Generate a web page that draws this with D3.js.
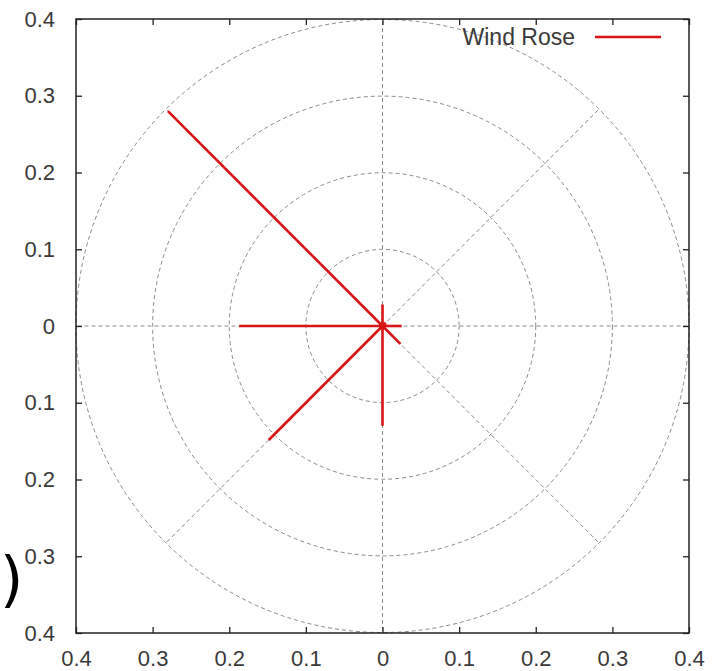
<!DOCTYPE html>
<html>
<head>
<meta charset="utf-8">
<script src="https://cdn.jsdelivr.net/npm/d3@7"></script>
<style>
  html, body { margin: 0; padding: 0; background: #fff; }
  svg { display: block; }
  text { font-family: "Liberation Sans", Arial, sans-serif; }
</style>
</head>
<body>
<svg id="chart" width="721" height="671"></svg>
<script>
// Wind rose: mean vector length per compass direction
const directions = ["N", "NE", "E", "SE", "S", "SW", "W", "NW"];
const bearings   = [0, 45, 90, 135, 180, 225, 270, 315];
const magnitudes = [0.028, 0.006, 0.025, 0.033, 0.13, 0.21, 0.187, 0.396];

// Grid and tick values
const ringRadii  = [0.1, 0.2, 0.3, 0.4];
const spokeAngles = [0, 45, 90, 135, 180, 225, 270, 315];
const tickValues = [-0.4, -0.3, -0.2, -0.1, 0, 0.1, 0.2, 0.3, 0.4];
const legendLabel = "Wind Rose";

const svg = d3.select("#chart");
const plotLeft = 76, plotRight = 689, plotTop = 19, plotBottom = 633;

const x = d3.scaleLinear().domain([-0.4, 0.4]).range([plotLeft, plotRight]);
const y = d3.scaleLinear().domain([-0.4, 0.4]).range([plotBottom, plotTop]);
const rpx = d3.scaleLinear().domain([0, 0.4]).range([0, (plotRight - plotLeft) / 2]);
const cx = x(0), cy = y(0);

const gridColor = "#8a8a8a";
const red = "#d81414";
const labelSize = "22px";

// Concentric range rings
svg.append("g").selectAll("circle").data(ringRadii).join("circle")
  .attr("cx", cx).attr("cy", cy)
  .attr("r", d => rpx(d))
  .attr("fill", "none")
  .attr("stroke", gridColor)
  .attr("stroke-width", 1)
  .attr("stroke-dasharray", "4,3");

// Radial spokes every 45 degrees
const rMax = d3.max(ringRadii);
svg.append("g").selectAll("line").data(spokeAngles).join("line")
  .attr("x1", cx).attr("y1", cy)
  .attr("x2", a => x(rMax * Math.sin(a * Math.PI / 180)))
  .attr("y2", a => y(rMax * Math.cos(a * Math.PI / 180)))
  .attr("stroke", gridColor)
  .attr("stroke-width", 1)
  .attr("stroke-dasharray", "4,3");

// Axes with inward ticks and absolute-value labels
const fmt = v => Math.abs(v) < 1e-9 ? "0" : d3.format(".1f")(Math.abs(v));
const styleAxis = g => {
  g.select(".domain").remove();
  g.selectAll(".tick line").attr("stroke", "#222").attr("stroke-width", 1.3);
  g.selectAll(".tick text").attr("fill", "#3a3a3a").style("font-size", labelSize)
    .style("font-family", "Liberation Sans, Arial, sans-serif");
};
svg.append("g").attr("transform", `translate(${plotLeft},0)`)
  .call(d3.axisLeft(y).tickValues(tickValues).tickFormat(fmt).tickSize(-6).tickPadding(21))
  .call(styleAxis);
svg.append("g").attr("transform", `translate(0,${plotBottom})`)
  .call(d3.axisBottom(x).tickValues(tickValues).tickFormat(fmt).tickSize(-6).tickPadding(17))
  .call(styleAxis);
svg.append("g").attr("transform", `translate(${plotRight},0)`)
  .call(d3.axisRight(y).tickValues(tickValues).tickFormat("").tickSize(-6))
  .call(styleAxis);
svg.append("g").attr("transform", `translate(0,${plotTop})`)
  .call(d3.axisTop(x).tickValues(tickValues).tickFormat("").tickSize(-6))
  .call(styleAxis);

// Plot border
svg.append("rect")
  .attr("x", plotLeft).attr("y", plotTop)
  .attr("width", plotRight - plotLeft).attr("height", plotBottom - plotTop)
  .attr("fill", "none").attr("stroke", "#222").attr("stroke-width", 1.5);

// Wind vectors from the origin
const rose = directions.map((d, i) => ({ dir: d, bearing: bearings[i], r: magnitudes[i] }));
svg.append("g").selectAll("line").data(rose).join("line")
  .attr("x1", cx).attr("y1", cy)
  .attr("x2", d => x(d.r * Math.sin(d.bearing * Math.PI / 180)))
  .attr("y2", d => y(d.r * Math.cos(d.bearing * Math.PI / 180)))
  .attr("stroke", red)
  .attr("stroke-width", 2.6);
svg.append("circle").attr("cx", cx).attr("cy", cy).attr("r", 3.5).attr("fill", red);

// Legend
const legend = svg.append("g");
legend.append("text")
  .attr("x", 575).attr("y", 45)
  .attr("text-anchor", "end")
  .attr("fill", "#3a3a3a")
  .style("font-size", "23px")
  .text(legendLabel);
legend.append("line")
  .attr("x1", 595).attr("x2", 661).attr("y1", 37).attr("y2", 37)
  .attr("stroke", red).attr("stroke-width", 2.6);

// Parenthesis at the lower left edge
svg.append("text")
  .attr("x", 0).attr("y", 600)
  .attr("fill", "#000")
  .style("font-family", "DejaVu Sans, sans-serif")
  .style("font-size", "60px")
  .text(")");
</script>
</body>
</html>
